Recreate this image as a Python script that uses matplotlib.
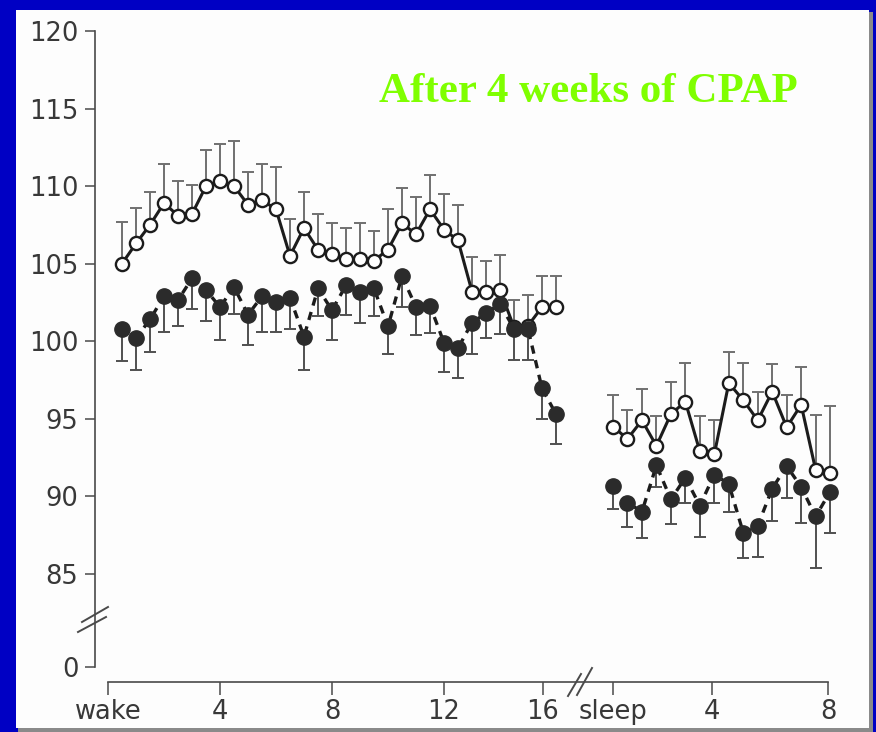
import numpy as np
import matplotlib
matplotlib.use('Agg')
import matplotlib.pyplot as plt
from matplotlib.lines import Line2D
from matplotlib.patches import Rectangle

# ---------------- data ----------------
wake_slots = np.arange(1, 33)      # half-hour slots after waking
sleep_slots = np.arange(16)        # sleep samples

wake_cpap = [105.0, 106.3, 107.5, 108.9, 108.1, 108.2, 110.0, 110.3, 110.0, 108.8,
             109.1, 108.5, 105.5, 107.3, 105.9, 105.6, 105.3, 105.3, 105.2, 105.9,
             107.6, 106.9, 108.5, 107.2, 106.5, 103.2, 103.2, 103.3, 100.9, 101.0,
             102.2, 102.2]
wake_cpap_upper = [107.7, 108.6, 109.6, 111.4, 110.3, 110.1, 112.3, 112.7, 112.9, 110.9,
                   111.4, 111.25, 107.9, 109.6, 108.2, 107.6, 107.3, 107.6, 107.1, 108.5,
                   109.85, 109.3, 110.7, 109.5, 108.8, 105.45, 105.2, 105.55, 102.65, 103.0,
                   104.2, 104.2]
wake_after = [100.8, 100.2, 101.4, 102.9, 102.65, 104.05, 103.3, 102.2, 103.5, 101.7,
              102.9, 102.55, 102.8, 100.3, 103.4, 102.0, 103.6, 103.2, 103.4, 100.95,
              104.2, 102.2, 102.3, 99.9, 99.55, 101.2, 101.8, 102.4, 100.8, 100.8,
              96.96, 95.3]
wake_after_lower = [98.7, 98.15, 99.3, 100.6, 101.0, 102.1, 101.3, 100.1, 101.75, 99.75,
                    100.6, 100.6, 100.8, 98.15, 101.6, 100.1, 101.7, 101.2, 101.6, 99.2,
                    102.2, 100.4, 100.5, 98.0, 97.6, 99.2, 100.2, 100.45, 98.8, 98.8,
                    95.0, 93.4]

sleep_cpap = [94.5, 93.7, 94.9, 93.25, 95.3, 96.1, 92.9, 92.7, 97.3, 96.2,
              94.9, 96.75, 94.45, 95.9, 91.7, 91.5]
sleep_cpap_upper = [96.5, 95.55, 96.9, 95.2, 97.4, 98.6, 95.2, 94.9, 99.3, 98.6,
                    96.7, 98.5, 96.5, 98.35, 95.25, 95.8]
sleep_after = [90.65, 89.6, 89.0, 92.0, 89.8, 91.2, 89.4, 91.4, 90.8, 87.65,
               88.1, 90.5, 91.95, 90.6, 88.7, 90.3]
sleep_after_lower = [89.2, 88.0, 87.3, 90.6, 88.2, 89.6, 87.4, 89.55, 89.0, 86.0,
                     86.1, 88.4, 89.9, 88.3, 85.35, 87.65]

x_tick_labels = ['wake', '4', '8', '12', '16', 'sleep', '4', '8']
y_tick_values = [85, 90, 95, 100, 105, 110, 115, 120]
title_text = 'After 4 weeks of CPAP'

# ---------------- layout ----------------
W, H = 876, 732
PX_X0, PX_PER_U = 108.0, 14.0          # x pixel of "wake" and pixels per slot
PX_Y120, PX_PER_Y = 31.0, 15.51         # y pixel of 120 and pixels per unit
SLEEP_START, SLEEP_STEP = 36.07, 1.034
ZERO_POS = 79.0                          # where the "0" of the broken axis sits
tick_pos = [0, 8, 16, 24, 31.07, 36.07, 43.14, 51.43]

def u_of(px):
    return (px - PX_X0) / PX_PER_U

def y_of(py):
    return 120 - (py - PX_Y120) / PX_PER_Y

def fx(px):
    return px / W

def fy(py):
    return 1 - py / H

BLUE = '#0000C4'
AXC = '#4a4a4a'
TXT = '#383838'

fig = plt.figure(figsize=(W / 100, H / 100), dpi=100, facecolor=BLUE)

# white panel with grey shadow
fig.patches.append(Rectangle((fx(18), fy(732)), (873 - 18) / W, (732 - 12) / H,
                             transform=fig.transFigure, facecolor='#8a8a8a',
                             edgecolor='none', zorder=-10))
fig.patches.append(Rectangle((fx(16), fy(728)), (869 - 16) / W, (728 - 10) / H,
                             transform=fig.transFigure, facecolor='#FDFDFD',
                             edgecolor='none', zorder=-9))

ax = fig.add_axes([fx(95), fy(682), (850 - 95) / W, (682 - 20) / H])
ax.set_zorder(1)
ax.patch.set_visible(False)
ax.set_xlim(u_of(95), u_of(850))
ax.set_ylim(y_of(682), y_of(20))

for s in ['top', 'right']:
    ax.spines[s].set_visible(False)
ax.spines['left'].set_bounds(ZERO_POS, 120)
ax.spines['bottom'].set_bounds(0, tick_pos[-1])
for s in ['left', 'bottom']:
    ax.spines[s].set_color(AXC)
    ax.spines[s].set_linewidth(1.2)

ax.set_yticks([ZERO_POS] + y_tick_values)
ax.set_yticklabels(['0'] + [str(v) for v in y_tick_values])
ax.set_xticks(tick_pos)
ax.set_xticklabels(x_tick_labels)
ax.tick_params(axis='y', direction='out', length=7, width=1.1, color=AXC,
               labelsize=18.5, labelcolor=TXT, pad=5)
ax.tick_params(axis='x', direction='out', length=9.5, width=1.1, color=AXC,
               labelsize=18.5, labelcolor=TXT, pad=3)

wake_x = wake_slots
sleep_x = SLEEP_START + sleep_slots * SLEEP_STEP

def draw_open(x, v, up):
    v = np.array(v); up = np.array(up)
    ax.errorbar(x, v, yerr=[np.zeros_like(v), up - v], fmt='none', ecolor='#707070',
                elinewidth=1.4, capsize=4, capthick=1.4, zorder=2)
    ax.plot(x, v, '-', color='#1c1c1c', lw=2.2, marker='o', ms=9.5,
            mfc='white', mec='#1c1c1c', mew=1.7, zorder=3)

def draw_filled(x, v, lo):
    v = np.array(v); lo = np.array(lo)
    ax.errorbar(x, v, yerr=[v - lo, np.zeros_like(v)], fmt='none', ecolor='#505050',
                elinewidth=1.4, capsize=4, capthick=1.4, zorder=4)
    ax.plot(x, v, '--', dashes=(2.5, 2), color='#1c1c1c', lw=2.4, marker='o', ms=11,
            mfc='#2b2b2b', mec='#2b2b2b', mew=1, zorder=5)

draw_open(wake_x, wake_cpap, wake_cpap_upper)
draw_open(sleep_x, sleep_cpap, sleep_cpap_upper)
draw_filled(wake_x, wake_after, wake_after_lower)
draw_filled(sleep_x, sleep_after, sleep_after_lower)

# axis breaks (figure pixel coordinates)
def fig_line(p0, p1, lw=1.4):
    fig.add_artist(Line2D([fx(p0[0]), fx(p1[0])], [fy(p0[1]), fy(p1[1])],
                          transform=fig.transFigure, color=AXC, lw=lw, zorder=10))

fig_line((82, 622), (108, 607))
fig_line((78, 632), (106, 617))
fig_line((568, 696), (581, 674))
fig_line((577, 695), (592, 668))

fig.text(fx(588), fy(102), title_text, fontfamily='Liberation Serif', fontweight='bold',
         fontsize=31, color='#7FFF00', ha='center', va='baseline')

fig.savefig('out.png', dpi=100, facecolor=BLUE)
